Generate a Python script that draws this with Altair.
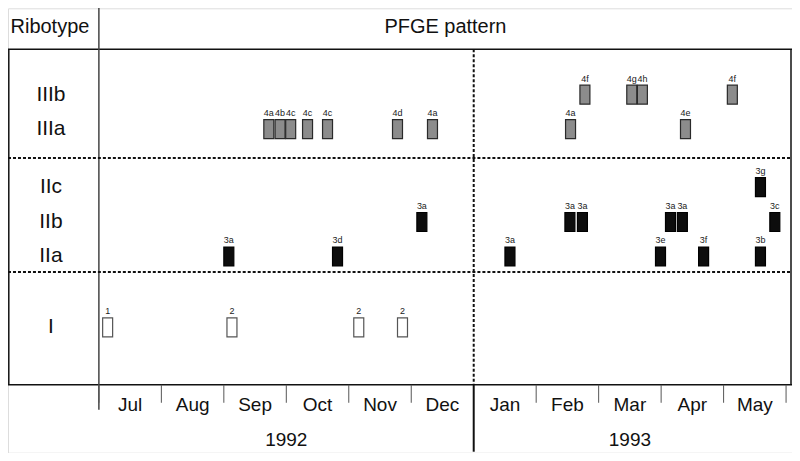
import altair as alt
import pandas as pd

# ---------------- data ----------------
rows = ["IIIb", "IIIa", "IIc", "IIb", "IIa", "I"]
months = ["Jul", "Aug", "Sep", "Oct", "Nov", "Dec", "Jan", "Feb", "Mar", "Apr", "May"]
years = ["1992", "1993"]
year_mid = [3.0, 8.5]          # month position of year label centres

ribotype = (["IIIa"] * 9 + ["IIIb"] * 4 + ["IIc"] + ["IIb"] * 6 + ["IIa"] * 6 + ["I"] * 4)
month_pos = [2.72, 2.90, 3.07, 3.34, 3.66, 4.78, 5.34, 7.55, 9.39,
             7.78, 8.53, 8.70, 10.14,
             10.59,
             5.17, 7.54, 7.74, 9.15, 9.34, 10.82,
             2.08, 3.82, 6.58, 8.99, 9.68, 10.59,
             0.14, 2.13, 4.16, 4.86]
pfge = ["4a", "4b", "4c", "4c", "4c", "4d", "4a", "4a", "4e",
        "4f", "4g", "4h", "4f",
        "3g",
        "3a", "3a", "3a", "3a", "3a", "3c",
        "3a", "3d", "3a", "3e", "3f", "3b",
        "1", "2", "2", "2"]

# ---------------- frames ----------------
def kind_of(r):
    if r.startswith("III"):
        return "III"
    if r.startswith("II"):
        return "II"
    return "I"

ev = pd.DataFrame({"ribotype": ribotype, "t": month_pos, "pfge": pfge})
ev["row"] = [rows.index(r) for r in ev["ribotype"]]
ev["kind"] = [kind_of(r) for r in ev["ribotype"]]

row_df = pd.DataFrame({"ribotype": rows, "row": list(range(len(rows)))})
mon_df = pd.DataFrame({"month": months, "mid": [i + 0.5 for i in range(len(months))]})
bound_df = pd.DataFrame({"b": [i for i in range(len(months) + 1) if i != 6]})
div_df = pd.DataFrame({"b": [6]})
year_df = pd.DataFrame({"year": years, "mid": year_mid})
one = pd.DataFrame({"a": [0]})

# ---------------- layout ----------------
W, H = 785, 445
FONT = "Liberation Sans"
XS = alt.Scale(domain=[-1.455, 11.095], range=[0, W], zero=False, nice=False)
YS = alt.Scale(domain=[0, 1, 2, 3, 4, 5], range=[86.5, 121, 179, 214, 248.5, 319.5],
               zero=False, nice=False)
BOX_TOP, BOX_BOT = 41, 377
LEFT_COL = 91

def hline(y, x1=0, x2=W, dash=None, width=1.5, color="#111"):
    kw = dict(color=color, strokeWidth=width)
    if dash:
        kw["strokeDash"] = dash
    return alt.Chart(one).mark_rule(**kw).encode(
        x=alt.value(x1), x2=alt.value(x2), y=alt.value(y))

def vline(x, y1, y2, dash=None, width=1.5, color="#111"):
    kw = dict(color=color, strokeWidth=width)
    if dash:
        kw["strokeDash"] = dash
    return alt.Chart(one).mark_rule(**kw).encode(
        x=alt.value(x), y=alt.value(y1), y2=alt.value(y2))

frame = [
    hline(BOX_TOP),
    hline(BOX_BOT),
    vline(0.8, BOX_TOP, BOX_BOT),
    vline(W - 1, BOX_TOP, BOX_BOT),
    vline(LEFT_COL, -2, 402, color="#444"),
    hline(150, dash=[3, 2], width=2),
    hline(264, dash=[3, 2], width=2),
]

ticks = alt.Chart(bound_df).mark_rule(color="#555", strokeWidth=1).encode(
    x=alt.X("b:Q", scale=XS, axis=None),
    y=alt.value(BOX_BOT), y2=alt.value(395))

div_dash = alt.Chart(div_df).mark_rule(color="#111", strokeWidth=2, strokeDash=[3, 2]).encode(
    x=alt.X("b:Q", scale=XS, axis=None),
    y=alt.value(BOX_TOP), y2=alt.value(BOX_BOT))
div_solid = alt.Chart(div_df).mark_rule(color="#111", strokeWidth=2).encode(
    x=alt.X("b:Q", scale=XS, axis=None),
    y=alt.value(BOX_BOT), y2=alt.value(444))

bars = alt.Chart(ev).mark_point(
    shape="M-0.5,-0.95H0.5V0.95H-0.5Z", size=400, filled=True, opacity=1, strokeWidth=1.2
).encode(
    x=alt.X("t:Q", scale=XS, axis=None),
    y=alt.Y("row:Q", scale=YS, axis=None),
    fill=alt.Fill("kind:N", scale=alt.Scale(domain=["III", "II", "I"],
                                            range=["#8c8c8c", "#0d0d0d", "#ffffff"]), legend=None),
    stroke=alt.Stroke("kind:N", scale=alt.Scale(domain=["III", "II", "I"],
                                                range=["#2a2a2a", "#000000", "#555555"]), legend=None),
)

bar_labels = alt.Chart(ev).mark_text(
    font=FONT, fontSize=9, color="#1a1a1a", dy=-13, baseline="alphabetic", align="center"
).encode(
    x=alt.X("t:Q", scale=XS, axis=None),
    y=alt.Y("row:Q", scale=YS, axis=None),
    text="pfge:N",
)

row_labels = alt.Chart(row_df).mark_text(
    font=FONT, fontSize=21, color="#111", align="center", baseline="middle"
).encode(
    x=alt.value(43),
    y=alt.Y("row:Q", scale=YS, axis=None),
    text="ribotype:N",
)

month_labels = alt.Chart(mon_df).mark_text(
    font=FONT, fontSize=19, color="#111", align="center", baseline="middle"
).encode(
    x=alt.X("mid:Q", scale=XS, axis=None),
    y=alt.value(397),
    text="month:N",
)

year_labels = alt.Chart(year_df).mark_text(
    font=FONT, fontSize=19, color="#111", align="center", baseline="middle"
).encode(
    x=alt.X("mid:Q", scale=XS, axis=None),
    y=alt.value(432),
    text="year:N",
)

hdr_rib = alt.Chart(pd.DataFrame({"t": ["Ribotype"]})).mark_text(
    font=FONT, fontSize=20, color="#111", align="center", baseline="middle"
).encode(x=alt.value(42), y=alt.value(19), text="t:N")

hdr_pfge = alt.Chart(pd.DataFrame({"t": ["PFGE pattern"]})).mark_text(
    font=FONT, fontSize=20, color="#111", align="center", baseline="middle"
).encode(x=alt.value(438), y=alt.value(19), text="t:N")

chart = alt.layer(
    *frame, ticks, div_dash, div_solid, bars, bar_labels, row_labels,
    month_labels, year_labels, hdr_rib, hdr_pfge
).properties(
    width=W, height=H,
    autosize=alt.AutoSizeParams(type="none"),
    padding=0,
).configure_view(stroke=None).configure(background="white")

chart.save("out.html", embed_options={"renderer": "svg", "actions": False})
